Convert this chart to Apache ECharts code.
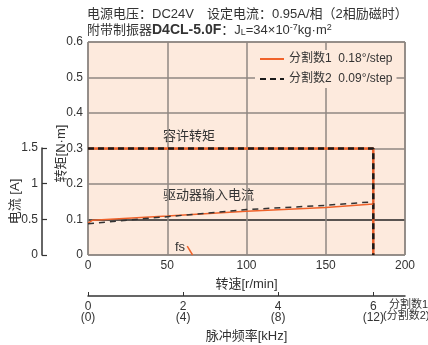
<!DOCTYPE html>
<html><head><meta charset="utf-8">
<script src="https://cdn.jsdelivr.net/npm/echarts@6/dist/echarts.min.js"></script>
<style>html,body{margin:0;padding:0;background:#fff}#c{width:428px;height:345px}</style>
</head><body><div id="c"></div>
<script>
// ---- data ----
const speedTicks = [0, 50, 100, 150, 200];
const torqueTicks = [0, 0.1, 0.2, 0.3, 0.4, 0.5, 0.6];
const currentTicks = [0, 0.5, 1, 1.5];
const pulseTicks1 = [0, 2, 4, 6];
const pulseTicks2 = [0, 4, 8, 12];
// allowable torque curves [speed r/min, torque N·m]
const torque1 = [[0, 0.3], [180, 0.3], [180, 0]];
const torque2 = [[0, 0.3], [180, 0.3], [180, 0]];
// driver input current [speed r/min, current A]
const current1 = [[0, 0.45], [3, 0.49], [50, 0.55], [100, 0.615], [150, 0.67], [180, 0.72]];
const current2 = [[0, 0.44], [50, 0.54], [100, 0.64], [150, 0.70], [180, 0.75]];
// self-start frequency fs
const fsLine = [[62.6, 0.025], [66, 0]];
const legend1 = '分割数1  0.18°/step';
const legend2 = '分割数2  0.09°/step';

const ORANGE = '#f0622a';
const F = '"Liberation Sans","Noto Sans CJK SC",sans-serif';
const TXT = '#333';
const GRID = '#8f8782';
const FS = 12;
const pulseMax = speedTicks[speedTicks.length - 1] * 2000 / 60 / 1000;

const chart = echarts.init(document.getElementById('c'));
chart.setOption({
  animation: false,
  textStyle: { fontFamily: F, color: TXT },
  title: [
    { text: '电源电压：DC24V　设定电流：0.95A/相（2相励磁时）', left: 82, top: 3,
      textStyle: { fontFamily: F, fontSize: 13, fontWeight: 'normal', color: TXT } },
    { text: '附带制振器{b|D4CL-5.0F}：J{s|L}=34×10{u|-7}kg·m{u|2}', left: 82, top: 18,
      textStyle: { fontFamily: F, fontSize: 13, fontWeight: 'normal', color: TXT,
        rich: { b: { fontFamily: F, fontSize: 14, fontWeight: 'bold', color: TXT },
                s: { fontFamily: F, fontSize: 9, color: TXT, padding: [4, 0, 0, 0] },
                u: { fontFamily: F, fontSize: 9, color: TXT, padding: [0, 0, 6, 0] } } } }
  ],
  legend: {
    orient: 'vertical', left: 255, top: 50, itemWidth: 24, itemHeight: 10, itemGap: 8,
    backgroundColor: '#fdeadd', padding: [3, 4, 3, 4],
    data: [legend1, legend2],
    itemStyle: { opacity: 0 },
    textStyle: { fontFamily: F, fontSize: 12, color: TXT }
  },
  grid: [
    { left: 88, top: 42, width: 317, height: 213, show: true, backgroundColor: '#fdeadd', borderColor: '#555', borderWidth: 1 },
    { left: 42, top: 148, width: 40, height: 107 },
    { left: 88, top: 290, width: 317, height: 6 }
  ],
  xAxis: [
    { gridIndex: 0, type: 'value', min: speedTicks[0], max: speedTicks[speedTicks.length - 1], interval: 50,
      axisLine: { show: false }, axisTick: { show: false },
      axisLabel: { fontFamily: F, fontSize: FS, color: TXT, margin: 5 },
      splitLine: { show: true, lineStyle: { color: GRID, width: 1.5 } },
      name: '转速[r/min]', nameLocation: 'middle', nameGap: 23,
      nameTextStyle: { fontFamily: F, fontSize: 13, color: TXT } },
    { gridIndex: 1, type: 'value', min: 0, max: 1, show: true,
      axisLine: { show: false }, axisTick: { show: false }, axisLabel: { show: false }, splitLine: { show: false } },
    { gridIndex: 2, type: 'value', min: 0, max: pulseMax, position: 'bottom',
      axisLine: { show: true, lineStyle: { color: '#333', width: 1.5 } },
      axisTick: { show: true, inside: true, length: 4, customValues: pulseTicks1, lineStyle: { color: '#333' } },
      axisLabel: { customValues: pulseTicks1, fontFamily: F, fontSize: FS, color: TXT, margin: 5, lineHeight: 11,
        formatter: v => v + '\n(' + pulseTicks2[pulseTicks1.indexOf(Math.round(v))] + ')' },
      splitLine: { show: false },
      name: '脉冲频率[kHz]', nameLocation: 'middle', nameGap: 34,
      nameTextStyle: { fontFamily: F, fontSize: 13, color: TXT } }
  ],
  yAxis: [
    { gridIndex: 0, type: 'value', min: torqueTicks[0], max: torqueTicks[torqueTicks.length - 1], interval: 0.1,
      axisLine: { show: false }, axisTick: { show: false },
      axisLabel: { fontFamily: F, fontSize: FS, color: TXT, margin: 5 },
      splitLine: { show: true, lineStyle: { color: [GRID, '#222', GRID, GRID, GRID, GRID, GRID], width: 1.5 } },
      name: '转矩[N·m]', nameLocation: 'middle', nameGap: 20, nameRotate: 90, nameMoveOverlap: false,
      nameTextStyle: { fontFamily: F, fontSize: 13, color: TXT, padding: [0, 10, 0, 0] } },
    { gridIndex: 1, type: 'value', min: currentTicks[0], max: currentTicks[currentTicks.length - 1], interval: 0.5,
      position: 'left', z: 10,
      axisLine: { show: true, onZero: false, lineStyle: { color: '#333', width: 1.5 } },
      axisTick: { show: true, inside: true, length: 5, lineStyle: { color: '#333', width: 1.2 } },
      axisLabel: { fontFamily: F, fontSize: FS, color: TXT, margin: 4 },
      splitLine: { show: false },
      name: '电流 [A]', nameLocation: 'middle', nameGap: 20, nameRotate: 90, nameMoveOverlap: false,
      nameTextStyle: { fontFamily: F, fontSize: 13, color: TXT } },
    { gridIndex: 0, type: 'value', min: 0, max: currentTicks[currentTicks.length - 1] * 2, show: false },
    { gridIndex: 2, type: 'value', min: 0, max: 1, show: false }
  ],
  graphic: [
    { type: 'text', left: 163, top: 130, style: { text: '容许转矩', font: '13px ' + F, fill: TXT } },
    { type: 'text', left: 163, top: 189, style: { text: '驱动器输入电流', font: '13px ' + F, fill: TXT } },
    { type: 'text', left: 175, top: 241, style: { text: 'fs', font: '13px ' + F, fill: TXT } },
    { type: 'text', left: 389, top: 299, style: { text: '分割数1', font: '11px ' + F, fill: TXT } },
    { type: 'text', left: 383, top: 310, style: { text: '(分割数2)', font: '11px ' + F, fill: TXT } }
  ],
  series: [
    { name: legend1, type: 'line', xAxisIndex: 0, yAxisIndex: 0, data: torque1, symbol: 'none',
      lineStyle: { color: ORANGE, width: 2.5 }, itemStyle: { color: ORANGE } },
    { name: legend2, type: 'line', xAxisIndex: 0, yAxisIndex: 0, data: torque2, symbol: 'none',
      lineStyle: { color: '#1a1a1a', width: 2.5, type: [6, 4] }, itemStyle: { color: '#1a1a1a' } },
    { name: legend1, type: 'line', xAxisIndex: 0, yAxisIndex: 2, data: current1, symbol: 'none',
      lineStyle: { color: ORANGE, width: 1.5 } },
    { name: legend2, type: 'line', xAxisIndex: 0, yAxisIndex: 2, data: current2, symbol: 'none',
      lineStyle: { color: '#333', width: 1.5, type: [6, 5] } },
    { name: 'fs', type: 'line', xAxisIndex: 0, yAxisIndex: 0, data: fsLine, symbol: 'none',
      lineStyle: { color: ORANGE, width: 1.5 } },
    { type: 'line', xAxisIndex: 1, yAxisIndex: 1, data: [], symbol: 'none' },
    { type: 'line', xAxisIndex: 2, yAxisIndex: 3, data: [], symbol: 'none' }
  ]
});
</script></body></html>
